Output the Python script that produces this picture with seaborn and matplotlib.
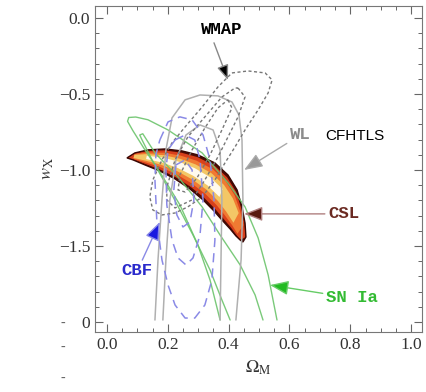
import numpy as np
import matplotlib.pyplot as plt
import seaborn as sns

# contours (Omega_M, w_X)
# CSL banana: upper and lower edge, paired across the band
csl_top_x = [0.066, 0.092, 0.135, 0.191, 0.247, 0.299, 0.355, 0.398, 0.428, 0.444, 0.454, 0.457, 0.447]
csl_top_y = [-0.921, -0.888, -0.868, -0.862, -0.875, -0.901, -0.954, -1.033, -1.132, -1.243, -1.349, -1.441, -1.474]
csl_bot_x = [0.066, 0.086, 0.125, 0.174, 0.224, 0.273, 0.316, 0.352, 0.378, 0.405, 0.424, 0.438, 0.447]
csl_bot_y = [-0.921, -0.934, -0.967, -1.007, -1.059, -1.125, -1.197, -1.270, -1.329, -1.388, -1.434, -1.461, -1.474]

# WMAP (dotted, closed)
wmap1_x = [0.411, 0.464, 0.520, 0.543, 0.530, 0.497, 0.454, 0.421, 0.388, 0.355, 0.313, 0.266, 0.224, 0.181, 0.151, 0.141, 0.151, 0.181, 0.214, 0.257, 0.313, 0.365]
wmap1_y = [-0.362, -0.349, -0.362, -0.408, -0.493, -0.605, -0.737, -0.849, -0.954, -1.066, -1.178, -1.243, -1.283, -1.296, -1.263, -1.178, -1.066, -0.934, -0.822, -0.717, -0.586, -0.454]
wmap2_x = [0.431, 0.454, 0.431, 0.398, 0.365, 0.322, 0.280, 0.224, 0.197, 0.197, 0.224, 0.266, 0.322, 0.378, 0.421]
wmap2_y = [-0.461, -0.520, -0.651, -0.783, -0.914, -1.066, -1.197, -1.250, -1.197, -1.112, -0.934, -0.783, -0.651, -0.520, -0.461]
wmap3_x = [0.398, 0.411, 0.378, 0.339, 0.296, 0.257, 0.234, 0.240, 0.280, 0.322, 0.365]
wmap3_y = [-0.539, -0.592, -0.737, -0.901, -1.053, -1.145, -1.132, -1.033, -0.868, -0.724, -0.592]

# WL CFHTLS (grey, open at the bottom)
wl1_x = [0.158, 0.168, 0.181, 0.194, 0.214, 0.257, 0.306, 0.365, 0.411, 0.434, 0.444, 0.447, 0.441, 0.424]
wl1_y = [-1.987, -1.592, -1.197, -0.868, -0.658, -0.539, -0.507, -0.513, -0.553, -0.638, -0.803, -1.197, -1.592, -1.987]
wl2_x = [0.184, 0.194, 0.207, 0.227, 0.260, 0.306, 0.349, 0.372, 0.378, 0.375, 0.372]
wl2_y = [-1.987, -1.592, -1.197, -0.934, -0.770, -0.704, -0.737, -0.868, -1.197, -1.592, -1.987]

# CBF (blue dashed, closed)
cbf1_x = [0.174, 0.201, 0.240, 0.280, 0.316, 0.339, 0.352, 0.355, 0.345, 0.322, 0.289, 0.257, 0.224, 0.201, 0.181, 0.164, 0.158, 0.161]
cbf1_y = [-0.803, -0.684, -0.651, -0.671, -0.770, -0.934, -1.197, -1.461, -1.724, -1.888, -1.974, -1.974, -1.888, -1.757, -1.592, -1.329, -1.066, -0.901]
cbf2_x = [0.224, 0.257, 0.289, 0.306, 0.316, 0.306, 0.283, 0.260, 0.234, 0.214, 0.197, 0.194, 0.201]
cbf2_y = [-0.803, -0.770, -0.803, -0.934, -1.197, -1.428, -1.579, -1.625, -1.579, -1.461, -1.230, -1.000, -0.868]
cbf3_x = [0.227, 0.257, 0.280, 0.286, 0.273, 0.250, 0.230, 0.220]
cbf3_y = [-0.967, -0.934, -1.000, -1.197, -1.342, -1.375, -1.296, -1.132]

# SN Ia (green, open at the bottom)
sn1_x = [0.372, 0.339, 0.299, 0.240, 0.174, 0.125, 0.085, 0.068, 0.072, 0.095, 0.135, 0.201, 0.313, 0.398, 0.454, 0.497, 0.530, 0.546, 0.559]
sn1_y = [-1.987, -1.724, -1.493, -1.230, -1.013, -0.868, -0.740, -0.680, -0.655, -0.652, -0.670, -0.737, -0.888, -1.086, -1.243, -1.447, -1.691, -1.855, -1.987]
sn2_x = [0.405, 0.378, 0.339, 0.283, 0.214, 0.150, 0.115, 0.108, 0.118, 0.158, 0.234, 0.313, 0.372, 0.438, 0.487, 0.513]
sn2_y = [-1.987, -1.855, -1.658, -1.428, -1.164, -0.940, -0.800, -0.770, -0.762, -0.888, -1.046, -1.243, -1.428, -1.625, -1.822, -1.987]

x_ticks = [0.0, 0.2, 0.4, 0.6, 0.8, 1.0]
x_ticklabels = ['0.0', '0.2', '0.4', '0.6', '0.8', '1.0']
y_ticks = [0.0, -0.5, -1.0, -1.5, -2.0]
y_ticklabels = ['0.0', '\u22120.5', '\u22121.0', '\u22121.5', '0']

sns.set_style('ticks')
plt.rcParams['font.family'] = ['Liberation Serif', 'DejaVu Serif']
plt.rcParams['mathtext.fontset'] = 'stix'

fig = plt.figure(figsize=(4.26, 3.92), dpi=100)
ax = fig.add_axes([0.223, 0.153, 0.768, 0.832])

# banana, nested layers built from the two edges
tx, ty = np.array(csl_top_x), np.array(csl_top_y)
bx, by = np.array(csl_bot_x), np.array(csl_bot_y)
cx, cy = 0.5 * tx + 0.5 * bx, 0.5 * ty + 0.5 * by
layers = [(1.0, 0, 13, '#4e0a05'), (0.87, 0, 12, '#d8401c'), (0.66, 1, 11, '#f07a32'),
          (0.44, 1, 10, '#f3c766'), (0.22, 2, 8, '#fffbee')]
for f, i0, i1, col in layers:
    px = np.concatenate([cx[i0:i1] + f * (tx[i0:i1] - cx[i0:i1]), (cx[i0:i1] + f * (bx[i0:i1] - cx[i0:i1]))[::-1]])
    py = np.concatenate([cy[i0:i1] + f * (ty[i0:i1] - cy[i0:i1]), (cy[i0:i1] + f * (by[i0:i1] - cy[i0:i1]))[::-1]])
    ax.fill(px, py, color=col, lw=0, zorder=1)
ax.fill(np.concatenate([tx, bx[::-1]]), np.concatenate([ty, by[::-1]]), fill=False,
        edgecolor='#3a0703', lw=1.0, zorder=1)


def curve(xs, ys, closed, **kw):
    xs, ys = list(xs), list(ys)
    if closed:
        xs, ys = xs + xs[:1], ys + ys[:1]
    sns.lineplot(x=xs, y=ys, sort=False, estimator=None, ax=ax, zorder=3, **kw)


for xs, ys in [(sn1_x, sn1_y), (sn2_x, sn2_y)]:
    curve(xs, ys, False, color='#6cc46c', lw=1.0, alpha=0.9)
for xs, ys in [(wl1_x, wl1_y), (wl2_x, wl2_y)]:
    curve(xs, ys, False, color='#b0b0b0', lw=1.1)
for xs, ys in [(wmap1_x, wmap1_y), (wmap2_x, wmap2_y), (wmap3_x, wmap3_y)]:
    curve(xs, ys, True, color='#777777', lw=1.0, linestyle=(0, (2.2, 1.8)))
for xs, ys in [(cbf1_x, cbf1_y), (cbf2_x, cbf2_y), (cbf3_x, cbf3_y)]:
    curve(xs, ys, True, color='#8a8ae6', lw=1.1, linestyle=(0, (6, 4)))

# labels with arrows
mono = dict(family='Liberation Mono', weight='bold', fontsize=12.5)


def label(txt, xy_text, xy_head, line_c, head_c, txt_c, ha='left'):
    ax.annotate(txt, xy=xy_head, xytext=xy_text, color=txt_c, ha=ha, va='center', zorder=5,
                arrowprops=dict(arrowstyle='-|>,head_length=0.9,head_width=0.35', lw=1.0,
                                edgecolor=line_c, facecolor=head_c, shrinkA=0, shrinkB=0),
                **mono)


ax.text(0.378, -0.079, 'WMAP', color='black', ha='center', va='center', **mono)
ax.annotate('', xy=(0.398, -0.408), xytext=(0.352, -0.164),
            arrowprops=dict(arrowstyle='-|>,head_length=0.9,head_width=0.35', lw=1.0,
                            edgecolor='#888888', facecolor='black', shrinkA=0, shrinkB=0))
label('WL', (0.602, -0.770), (0.451, -1.0), '#aaaaaa', '#999999', '#8c8c8c')
ax.text(0.717, -0.775, 'CFHTLS', family='Liberation Sans', fontsize=11, color='black', va='center')
label('CSL', (0.727, -1.289), (0.451, -1.289), '#b08080', '#5a1a10', '#6b2a22')
label('CBF', (0.10, -1.664), (0.174, -1.342), '#8a8ae6', '#1a1ae0', '#2a2acc', ha='center')
label('SN Ia', (0.72, -1.842), (0.536, -1.757), '#66cc66', '#22bb22', '#33bb33')

ax.set_xlim(-0.039, 1.036)
ax.set_ylim(-2.066, 0.079)
ax.set_xticks(x_ticks)
ax.set_xticklabels(x_ticklabels)
ax.set_yticks(y_ticks)
ax.set_yticklabels(y_ticklabels)
ax.set_xticks(np.arange(-0.0, 1.01, 0.05), minor=True)
ax.set_yticks(np.arange(-2.0, 0.01, 0.1), minor=True)
ax.tick_params(which='both', direction='in', top=True, right=True, colors='#666666',
               labelcolor='#333333', labelsize=12.5)
ax.tick_params(which='major', length=6, width=0.8)
ax.tick_params(which='minor', length=3, width=0.7)
for s in ax.spines.values():
    s.set_color('#777777')
    s.set_linewidth(0.8)

ax.set_xlabel(r'$\Omega_{\rm M}$', fontsize=13, color='#333333', labelpad=4)
ax.set_ylabel(r'$w_{\rm X}$', fontsize=13, color='#333333', labelpad=2)

for yy in [0.175, 0.115, 0.035]:
    fig.text(0.148, yy, '-', color='#666666', fontsize=10, ha='center', va='center')

fig.savefig('out.png', dpi=100)
